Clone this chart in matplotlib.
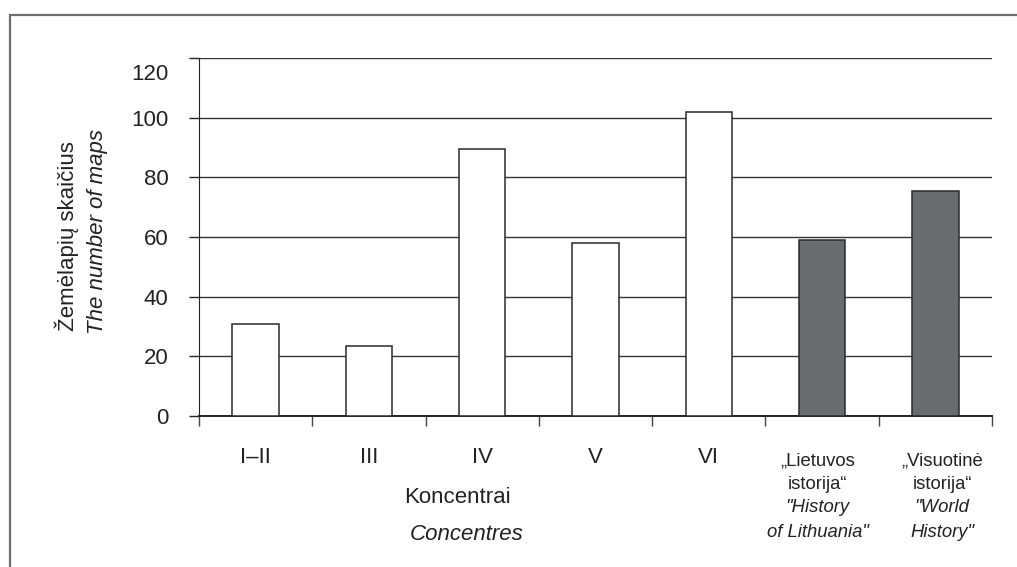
import matplotlib.pyplot as plt
from matplotlib.patches import Rectangle
import matplotlib.transforms as mtransforms
import numpy as np

plt.rcParams['font.family'] = ['Liberation Sans', 'DejaVu Sans']

categories = ['I–II', 'III', 'IV', 'V', 'VI',
              '„Lietuvos\nistorija“', '„Visuotinė\nistorija“']
english = ['', '', '', '', '', '"History\nof Lithuania"', '"World\nHistory"']
values = [31, 23.5, 89.5, 58, 102, 59, 75.5]
colors = ['white'] * 5 + ['#6a6b6e'] * 2
yticks = [0, 20, 40, 60, 80, 100, 120]

W, H = 1017, 567
fig = plt.figure(figsize=(W / 100, H / 100), dpi=100)
ax = fig.add_axes([199 / W, 1 - 416 / H, (992 - 199) / W, (416 - 58) / H])

def fy(py):
    return 1 - py / H

# outer frame of the figure box
fig.patches.append(Rectangle((10 / W, -0.1), 1.2, fy(15) + 0.1,
                             transform=fig.transFigure, fill=False,
                             edgecolor='#6e6e6e', lw=1.6))

x = np.arange(len(values))
ax.bar(x, values, width=0.41, color=colors, edgecolor='#2a2a2a', lw=1.1, zorder=3)

ax.set_xlim(-0.5, len(values) - 0.5)
ax.set_ylim(0, 120)
ax.set_yticks(yticks)
ax.set_yticklabels([str(v) for v in yticks], fontsize=16, color='#222222')
ax.yaxis.grid(True, color='#333333', lw=1.0, zorder=0)
ax.tick_params(axis='y', length=7, width=1, color='#222222', pad=15)
ax.set_xticks(np.arange(-0.5, len(values), 1.0))
ax.set_xticklabels([])
ax.tick_params(axis='x', length=7, width=1, color='#444444')

# top label sits a bit below its tick in the original
top_lbl = ax.get_yticklabels()[-1]
top_lbl.set_transform(top_lbl.get_transform() +
                      mtransforms.ScaledTranslation(0, -14 / 100, fig.dpi_scale_trans))

for s in ['top', 'right']:
    ax.spines[s].set_visible(False)
ax.spines['left'].set_color('#222222')
ax.spines['bottom'].set_color('#222222')
ax.spines['bottom'].set_linewidth(1.4)

tr = mtransforms.blended_transform_factory(ax.transData, fig.transFigure)
shift = [0, 0, 0, 0, 0, -0.04, 0.06]
line_base = [465, 489, 512, 537]
for i, (c, e) in enumerate(zip(categories, english)):
    if e:
        lines = c.split('\n') + e.split('\n')
        for k, ln in enumerate(lines):
            ax.text(i + shift[i], fy(line_base[k]), ln, transform=tr,
                    ha='center', va='baseline', fontsize=13.3, color='#222222',
                    style='italic' if k >= 2 else 'normal')
    else:
        ax.text(i, fy(463), c, transform=tr, ha='center', va='baseline',
                fontsize=16, color='#222222')

fig.text(457 / W, fy(503), 'Koncentrai', ha='center', va='baseline',
         fontsize=16, color='#222222')
fig.text(467 / W, fy(540), 'Concentres', ha='center', va='baseline',
         fontsize=16, style='italic', color='#222222')

fig.text(67 / W, fy(236), 'Žemėlapių skaičius', rotation=90,
         ha='center', va='center', fontsize=16, color='#222222')
fig.text(97 / W, fy(231), 'The number of maps', rotation=90,
         ha='center', va='center', fontsize=16, style='italic', color='#222222')

fig.savefig('out.png', dpi=100)
